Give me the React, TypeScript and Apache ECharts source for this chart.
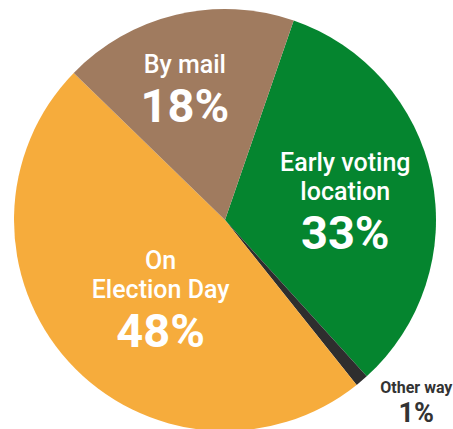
import React, { useEffect, useRef } from "react";
import * as echarts from "echarts";

const categories = ["Early voting\nlocation", "Other way", "On\nElection Day", "By mail"];
const values = [33, 1, 48, 18];
const colors = ["#05852F", "#2E2E2E", "#F6AC3C", "#A07B5F"];
const labelColors = ["#ffffff", "#333333", "#ffffff", "#ffffff"];
const labelOffsets = [
  [14, 5],
  [121, 100],
  [16, 9],
  [-15, -23],
];

export default function App() {
  const ref = useRef<HTMLDivElement>(null);
  useEffect(() => {
    if (!ref.current) return;
    const chart = echarts.init(ref.current, null, { renderer: "svg" });
    const data = categories.map((name, i) => {
      const small = i === 1;
      return {
        name,
        value: values[i],
        itemStyle: { color: colors[i] },
        label: {
          formatter: (p: any) =>
            p.name
              .split("\n")
              .map((s: string) => `{${small ? "ns" : "n"}|${s}}`)
              .join("\n") + `\n{${small ? "vs" : "v"}|${p.value}%}`,
          color: labelColors[i],
        },
      };
    });
    chart.setOption({
      animation: false,
      series: [
        {
          type: "pie",
          center: [225, 220],
          radius: [0, 211],
          startAngle: 71,
          clockwise: true,
          silent: true,
          emphasis: { disabled: true },
          labelLine: { show: false },
          label: {
            show: true,
            position: "inner",
            fontFamily: "Roboto",
            rich: {
              n: { fontSize: 25, fontWeight: 500, lineHeight: 29, align: "center", fontFamily: "Roboto" },
              v: { fontSize: 47, fontWeight: "bold", lineHeight: 53, align: "center", fontFamily: "Roboto" },
              ns: { fontSize: 16, fontWeight: "bold", lineHeight: 20, align: "center", fontFamily: "Roboto", color: "#333333" },
              vs: { fontSize: 27, fontWeight: "bold", lineHeight: 30, align: "center", fontFamily: "Roboto", color: "#333333" },
            },
          },
          labelLayout: (p: any) => ({ dx: labelOffsets[p.dataIndex][0], dy: labelOffsets[p.dataIndex][1] }),
          data,
        },
      ],
    });
    return () => chart.dispose();
  }, []);
  return (
    <div
      ref={ref}
      style={{ position: "fixed", left: 0, top: 0, width: 453, height: 429, background: "#ffffff" }}
    />
  );
}
